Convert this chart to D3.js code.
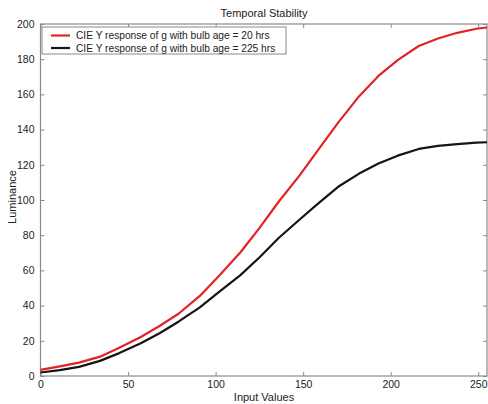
<!DOCTYPE html>
<html>
<head>
<meta charset="utf-8">
<script src="https://cdn.jsdelivr.net/npm/d3@7"></script>
<style>
  body { margin: 0; background: #fff; }
  text { font-family: "Liberation Sans", Arial, sans-serif; fill: #222; }
</style>
</head>
<body>
<svg id="chart1"></svg>
<script>
let w = 488;
let h = 404;

// input values where the curves were read
let inputValues = [0, 11, 22, 34, 45, 57, 68, 79, 91, 102, 114, 125, 136, 148, 159, 170, 182, 193, 204, 216, 227, 238, 249, 255];
// CIE Y response, bulb age 20 hrs
let age20 = [3.5, 5.5, 7.6, 11, 16, 22, 28.4, 35.5, 45.5, 57, 70, 84, 99, 114, 129, 144, 159, 170.5, 179.5, 187.5, 191.8, 195, 197.3, 198];
// CIE Y response, bulb age 225 hrs
let age225 = [2, 3.3, 5.2, 8.6, 13, 18.5, 24.3, 31, 39, 47.8, 57.2, 67.3, 78.4, 88.9, 98.4, 107.5, 115, 120.7, 125.2, 129, 130.8, 131.8, 132.6, 132.8];

let xTicks = [0, 50, 100, 150, 200, 250];
let yTicks = [0, 20, 40, 60, 80, 100, 120, 140, 160, 180, 200];
let seriesNames = ['CIE Y response of g with bulb age = 20 hrs', 'CIE Y response of g with bulb age = 225 hrs'];
let seriesColors = ['#e32322', '#151515'];

let plotLeft = 40.5, plotRight = 487, plotTop = 24, plotBottom = 376;

let svg = d3.select('#chart1').attr('width', w).attr('height', h);

let xScale = d3.scaleLinear().domain([0, 255]).range([plotLeft, plotRight]);
let yScale = d3.scaleLinear().domain([0, 200]).range([plotBottom, plotTop]);

// axes with inward ticks on all sides (matlab style)
let axisColor = '#8a8a8a';
function styleAxis(g) {
  g.select('.domain').remove();
  g.selectAll('line').attr('stroke', axisColor);
  g.selectAll('text').attr('font-size', 10.5).style('fill', '#222');
}

svg.append('g').attr('transform', `translate(0,${plotBottom})`)
  .call(d3.axisBottom(xScale).tickValues(xTicks).tickSizeInner(-4).tickSizeOuter(0).tickPadding(5))
  .call(styleAxis);
svg.append('g').attr('transform', `translate(0,${plotTop})`)
  .call(d3.axisTop(xScale).tickValues(xTicks).tickSizeInner(-4).tickSizeOuter(0).tickFormat(''))
  .call(styleAxis);
svg.append('g').attr('transform', `translate(${plotLeft},0)`)
  .call(d3.axisLeft(yScale).tickValues(yTicks).tickSizeInner(-4).tickSizeOuter(0).tickPadding(6))
  .call(styleAxis);
svg.append('g').attr('transform', `translate(${plotRight},0)`)
  .call(d3.axisRight(yScale).tickValues(yTicks).tickSizeInner(-4).tickSizeOuter(0).tickFormat(''))
  .call(styleAxis);

svg.append('rect')
  .attr('x', plotLeft).attr('y', plotTop)
  .attr('width', plotRight - plotLeft).attr('height', plotBottom - plotTop)
  .attr('fill', 'none').attr('stroke', axisColor).attr('stroke-width', 1.2);

let lineFunction = d3.line()
  .x((d, i) => xScale(inputValues[i]))
  .y(d => yScale(d));

[age20, age225].forEach((s, k) => {
  svg.append('path')
    .attr('d', lineFunction(s))
    .attr('fill', 'none')
    .attr('stroke', seriesColors[k])
    .attr('stroke-width', 2.2)
    .attr('stroke-linejoin', 'round');
});

// legend
let legend = svg.append('g');
legend.append('rect')
  .attr('x', 42).attr('y', 27)
  .attr('width', 244).attr('height', 27)
  .attr('fill', '#fff').attr('stroke', axisColor).attr('stroke-width', 1);
seriesNames.forEach((name, k) => {
  let yy = 35.5 + k * 12.5;
  legend.append('line')
    .attr('x1', 51).attr('x2', 70).attr('y1', yy).attr('y2', yy)
    .attr('stroke', seriesColors[k]).attr('stroke-width', 2.2);
  legend.append('text')
    .attr('x', 76).attr('y', yy + 3.8)
    .attr('font-size', 10.2)
    .text(name);
});

// titles
svg.append('text').attr('x', 264).attr('y', 17).attr('text-anchor', 'middle')
  .attr('font-size', 11).text('Temporal Stability');
svg.append('text').attr('x', 264).attr('y', 401).attr('text-anchor', 'middle')
  .attr('font-size', 11).text('Input Values');
svg.append('text').attr('transform', 'translate(16,197) rotate(-90)').attr('text-anchor', 'middle')
  .attr('font-size', 11).text('Luminance');
</script>
</body>
</html>
